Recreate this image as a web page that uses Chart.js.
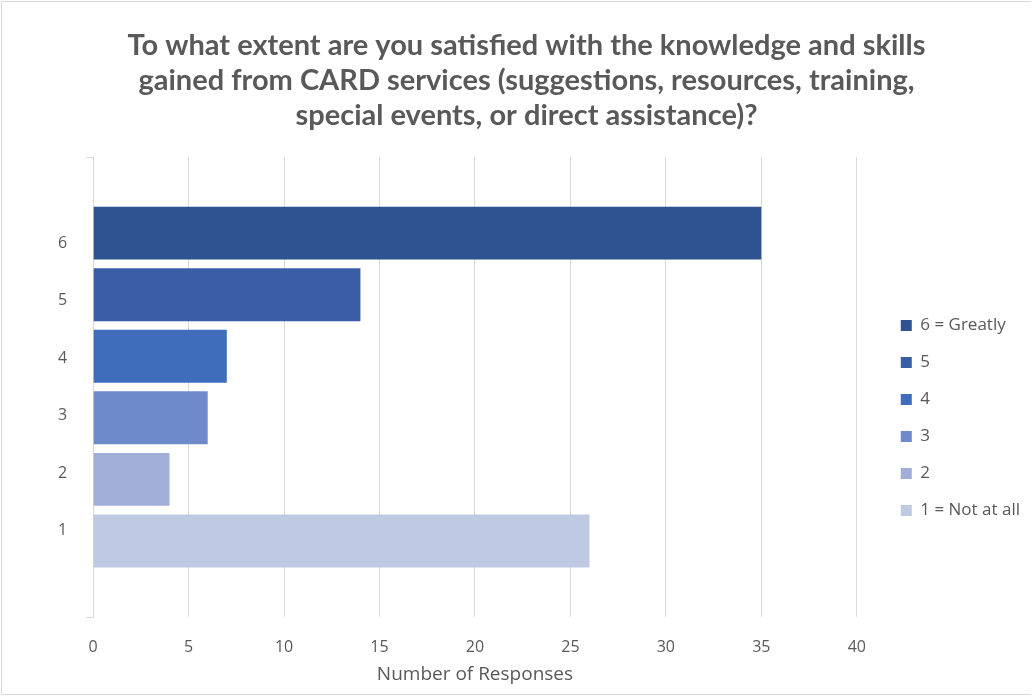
<!DOCTYPE html>
<html>
<head>
<meta charset="utf-8">
<title>CARD services satisfaction</title>
<script src="https://cdn.jsdelivr.net/npm/chart.js@4.4.0/dist/chart.umd.min.js"></script>
<style>
  html, body { margin: 0; padding: 0; background: #fff; }
  #wrap { position: relative; width: 1030px; height: 694px; margin: 1px 0 0 1px; border: 1px solid #d9d9d9; border-right: none; box-sizing: border-box; }
</style>
</head>
<body>
<div id="wrap"><canvas id="chart"></canvas></div>
<script>
// rating scale, one series per rating
const ratingLabels = ['6 = Greatly', '5', '4', '3', '2', '1 = Not at all'];
const responseCounts = [35, 14, 7, 6, 4, 26];
const barColors = ['#2F5290', '#3A5EA6', '#3F6DBB', '#6F8ACB', '#A0AED8', '#C0C9E4'];
// labels shown down the left side
const axisLabels = ['', '6', '5', '4', '3', '2', '1', ''];
const xMin = 0;
const xMax = 40;
const xStep = 5;

const textColor = '#595959';
const gridColor = '#d9d9d9';
Chart.defaults.font.family = '"Open Sans", Lato, sans-serif';

// nudge the legend box away from the plot after layout
const legendShift = {
  id: 'legendShift',
  afterLayout(chart, args, opts) {
    const lg = chart.legend;
    lg.left += opts.dx;
    lg.right += opts.dx;
    lg.top += opts.dy;
    lg.bottom += opts.dy;
  }
};

const datasets = ratingLabels.map((label, i) => ({
  label: label,
  data: [responseCounts[i]],
  backgroundColor: barColors[i],
  yAxisID: 'yBars',
  categoryPercentage: 0.803,
  barPercentage: 0.86
}));

const ctx = document.getElementById('chart').getContext('2d');
const chart = new Chart(ctx, {
  type: 'bar',
  data: {
    labels: ['Responses'],
    datasets: datasets
  },
  plugins: [legendShift],
  options: {
    indexAxis: 'y',
    responsive: true,
    maintainAspectRatio: false,
    animation: false,
    layout: { padding: { top: 4, right: 25, left: 45, bottom: 0 } },
    scales: {
      x: {
        min: xMin,
        max: xMax,
        ticks: { stepSize: xStep, color: textColor, font: { size: 16 }, padding: 21 },
        grid: { color: gridColor, drawTicks: false },
        border: { display: false },
        title: { display: true, text: 'Number of Responses', color: textColor, font: { size: 19 }, padding: { top: -15, bottom: 8 } }
      },
      yBars: {
        type: 'category',
        position: 'left',
        weight: 0,
        ticks: { display: false },
        grid: { offset: true, drawOnChartArea: false, tickLength: 7, color: gridColor },
        border: { color: gridColor },
        afterFit(scale) { scale.width = 7; }
      },
      y: {
        type: 'category',
        labels: axisLabels,
        position: 'left',
        weight: 1,
        offset: true,
        grid: { display: false },
        border: { display: false },
        ticks: { color: textColor, font: { size: 16 }, padding: 11 }
      }
    },
    plugins: {
      title: {
        display: true,
        font: { family: 'Lato, sans-serif', size: 29, weight: 'bold', lineHeight: 1.207 },
        text: [
          'To what extent are you satisfied with the knowledge and skills',
          'gained from CARD services (suggestions, resources, training,',
          'special events, or direct assistance)?'
        ],
        color: textColor,
        padding: { top: 22, bottom: 24 }
      },
      legend: {
        position: 'right',
        labels: { color: textColor, font: { size: 17 }, boxWidth: 11, boxHeight: 11, padding: 20 }
      },
      legendShift: { dx: 24, dy: 68 },
      tooltip: { enabled: false }
    }
  }
});
</script>
</body>
</html>
